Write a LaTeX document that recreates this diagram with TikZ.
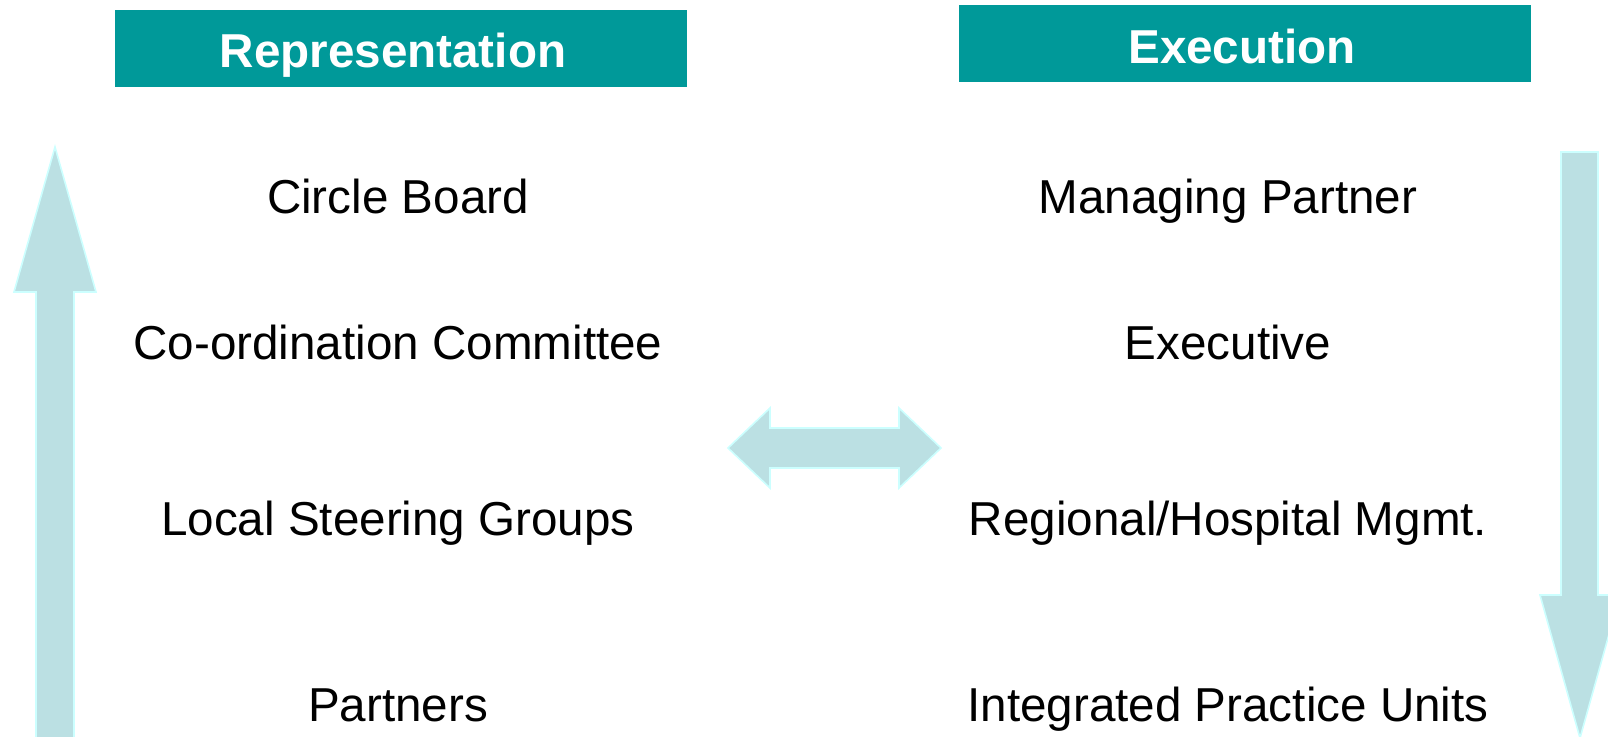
\documentclass[tikz,border=0pt]{standalone}
\usepackage{fontspec}
\setmainfont{Liberation Sans}
\usepackage{xcolor}
\usepackage{tikz}

\definecolor{headteal}{RGB}{0,153,153}
\definecolor{arrowfill}{RGB}{187,224,227}
\definecolor{arrowline}{RGB}{204,255,255}

\begin{document}
\begin{tikzpicture}[
				x=0.5pt,y=-0.5pt,
				line cap=round,line join=round,
				headtxt/.style={text=white, font=\bfseries\fontsize{23.8}{28}\selectfont, anchor=base, inner sep=0pt},
				item/.style={font=\fontsize{23.8}{28}\selectfont, anchor=base, inner sep=0pt},
				blockarrow/.style={fill=arrowfill, draw=arrowline, line width=0.8pt, line join=miter}
				]
				% ---- parameters
				\def\colL{398}
				\def\colR{1228}
				
				% page
				\useasboundingbox (0,0) rectangle (1608,736);
				
				% header bars
				\fill[headteal] (115,10) rectangle (687,87);
				\fill[headteal] (959,5) rectangle (1531,82);
				\node[headtxt] (rephead) at (393,67) {Representation};
				\node[headtxt] (exehead) at (1242,63) {Execution};
				
				% levels, both columns
				\foreach \lft/\rgt/\yb [count=\i] in {
					Circle Board/Managing Partner/213,
					Co-ordination Committee/Executive/359,
					Local Steering Groups/{Regional/Hospital Mgmt.}/535,
					Partners/Integrated Practice Units/721}{
					\node[item] (rep\i) at (\colL,\yb) {\lft};
					\node[item] (exe\i) at (\colR,\yb) {\rgt};
				}
				
				% upward arrow
				\draw[blockarrow] (36,742) -- (36,292) -- (14,292) -- (55,147)
					-- (96,292) -- (74,292) -- (74,742) -- cycle;
				
				% downward arrow
				\draw[blockarrow] (1561,152) -- (1598,152) -- (1598,595) -- (1620,595)
					-- (1580,738) -- (1540,595) -- (1561,595) -- cycle;
				
				% two-way arrow
				\draw[blockarrow] (728,448) -- (770,408) -- (770,428) -- (899,428)
					-- (899,408) -- (941,448) -- (899,488) -- (899,468)
					-- (770,468) -- (770,488) -- cycle;
			\end{tikzpicture}
\end{document}
